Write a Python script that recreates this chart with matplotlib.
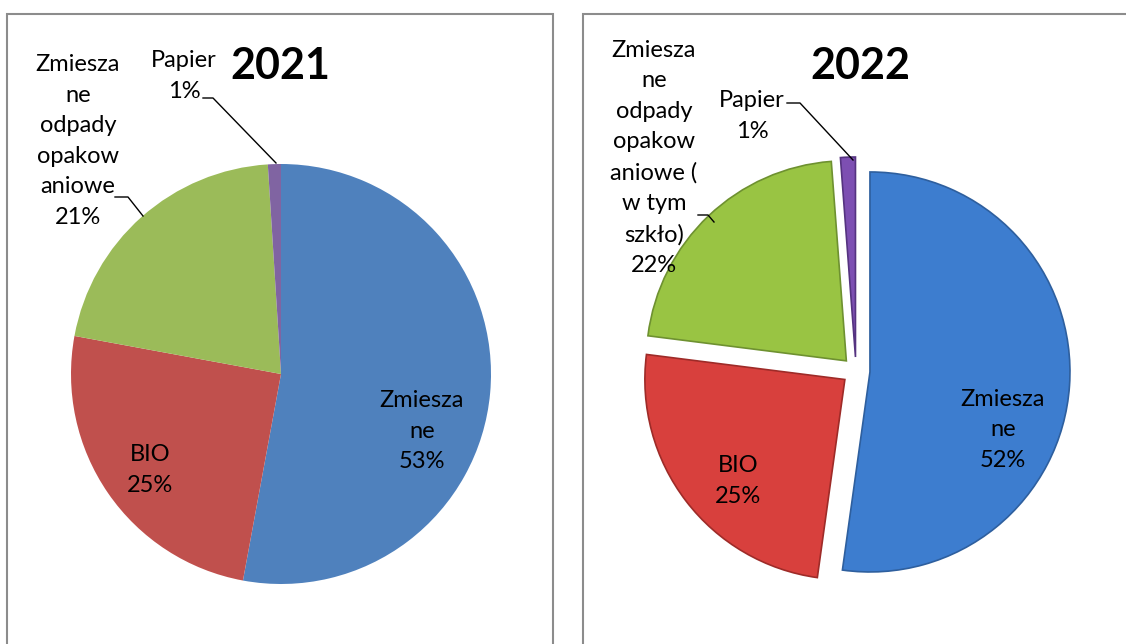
import matplotlib.pyplot as plt
from matplotlib.patches import Rectangle

plt.rcParams['font.family'] = ['Lato', 'DejaVu Sans']

# data
years = ['2021', '2022']
vals_2021 = [52.9, 25.0, 21.1, 1.0]
vals_2022 = [52.2, 24.8, 21.8, 1.2]
labels_2021 = ['Zmiesza\nne', 'BIO', 'Zmiesza\nne\nodpady\nopakow\naniowe', 'Papier']
labels_2022 = ['Zmiesza\nne', 'BIO', 'Zmiesza\nne\nodpady\nopakow\naniowe (\nw tym\nszkło)', 'Papier']

cols_2021 = ['#4F81BD', '#C0504D', '#9BBB59', '#8064A2']
cols_2022 = ['#3D7DCF', '#D8403D', '#99C443', '#7D4FB2']
edge_2022 = ['#2E5F9E', '#9E2B28', '#6E9130', '#553380']

W, H = 1126, 644
fig = plt.figure(figsize=(W / 100, H / 100), dpi=100)
ax = fig.add_axes([0, 0, 1, 1])

# panel frames
ax.add_patch(Rectangle((7, -10), 546, H - 14 + 10, fill=False, ec='#8c8c8c', lw=1.5))
ax.add_patch(Rectangle((583, -10), 600, H - 14 + 10, fill=False, ec='#8c8c8c', lw=1.5))

# 2021 pie
ax.pie(vals_2021, colors=cols_2021, startangle=90, counterclock=False,
       center=(281, H - 374), radius=210, wedgeprops=dict(lw=0))

# 2022 pie, exploded
ax.pie(vals_2022, colors=cols_2022, startangle=90, counterclock=False,
       center=(856, H - 371), radius=200, explode=[14] * 4,
       wedgeprops=dict(lw=1.2))
for w, ec in zip(ax.patches[-4:], edge_2022):
    w.set_edgecolor(ec)

ax.set_xlim(0, W)
ax.set_ylim(0, H)
ax.axis('off')

fs = 17
ls = 1.56

def lab(name, v, x, y):
    ax.text(x, H - y, f'{name}\n{round(v)}%', ha='center', va='center',
            fontsize=fs, linespacing=ls, color='black')

# 2021 labels
pos_2021 = [(422, 431), (150, 470), (78, 141), (184, 76)]
for name, v, (x, y) in zip(labels_2021, vals_2021, pos_2021):
    lab(name, v, x, y)
ax.plot([203, 213, 276], [H - 98, H - 98, H - 163], color='black', lw=1)
ax.plot([115, 128, 143], [H - 197, H - 197, H - 216], color='black', lw=1)
ax.text(280, H - 66, years[0], ha='center', va='center', fontsize=31, fontweight='bold')

# 2022 labels
pos_2022 = [(1003, 430), (738, 481), (654, 158), (752, 116)]
for name, v, (x, y) in zip(labels_2022, vals_2022, pos_2022):
    lab(name, v, x, y)
ax.plot([787, 800, 853], [H - 103, H - 103, H - 160], color='black', lw=1)
ax.plot([698, 708, 714], [H - 215, H - 215, H - 222], color='black', lw=1)
ax.text(860, H - 66, years[1], ha='center', va='center', fontsize=31, fontweight='bold')

fig.savefig('out.png', dpi=100)
